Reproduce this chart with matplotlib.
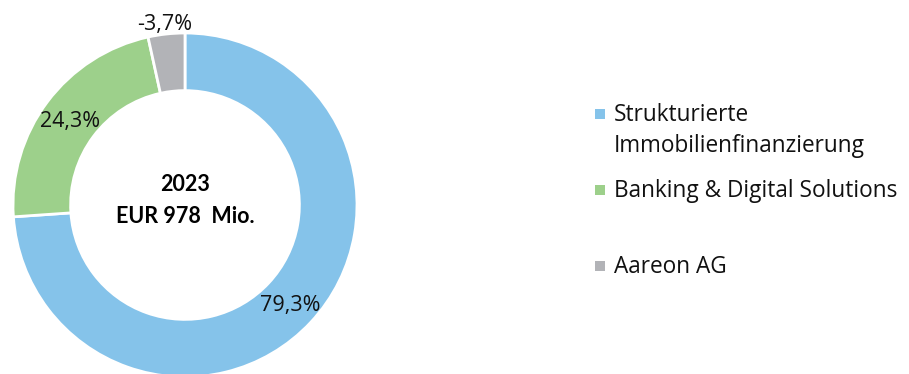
import matplotlib
matplotlib.use("Agg")
import matplotlib.pyplot as plt
from matplotlib.patches import Rectangle
import numpy as np

plt.rcParams.update({"font.family": ["Open Sans", "DejaVu Sans"]})

segments = ["Strukturierte\nImmobilienfinanzierung", "Banking & Digital Solutions", "Aareon AG"]
shares = [79.3, 24.3, 3.7]
share_labels = ["79,3%", "24,3%", "-3,7%"]
colors = ["#85c3ea", "#9dd08b", "#b2b3b7"]
center_title = "2023"
center_value = "EUR 978  Mio."

fig = plt.figure(figsize=(9.09, 3.74), dpi=100)
W, H = 909, 374
cx, cy, r = 185, 205, 172
ax = fig.add_axes([(cx - r) / W, (H - cy - r) / H, 2 * r / W, 2 * r / H])

wedges, _ = ax.pie(shares, colors=colors, startangle=90, counterclock=False,
                   radius=1, wedgeprops=dict(width=0.335, edgecolor="white", linewidth=2))
ax.set_xlim(-1, 1)
ax.set_ylim(-1, 1)
ax.axis("off")

# percentage labels, the small slice gets its label outside the ring
for w, lab in zip(wedges, share_labels):
    mid = np.deg2rad((w.theta1 + w.theta2) / 2)
    dist = 0.835 if w.theta2 - w.theta1 > 30 else 1.07
    ax.text(dist * np.cos(mid), dist * np.sin(mid), lab, ha="center", va="center_baseline",
            fontsize=15.5, color="#111111", clip_on=False)

bold = dict(ha="center", va="center", fontsize=15.5, fontweight="bold", family=["Lato", "DejaVu Sans"])
ax.text(0, 0.12, center_title, **bold)
ax.text(0, -0.065, center_value, **bold)

# legend drawn by hand because of the uneven spacing
legend_base = [121, 197, 273]
for c, name, y in zip(colors, segments, legend_base):
    fig.add_artist(Rectangle((595 / W, (H - y + 2) / H), 10 / W, 10 / H,
                             transform=fig.transFigure, color=c, lw=0))
    for i, line in enumerate(name.split("\n")):
        fig.text(614 / W, (H - y - 31 * i) / H, line, ha="left", va="baseline",
                 fontsize=16.3, color="#111111")

fig.savefig("out.png", dpi=100)
